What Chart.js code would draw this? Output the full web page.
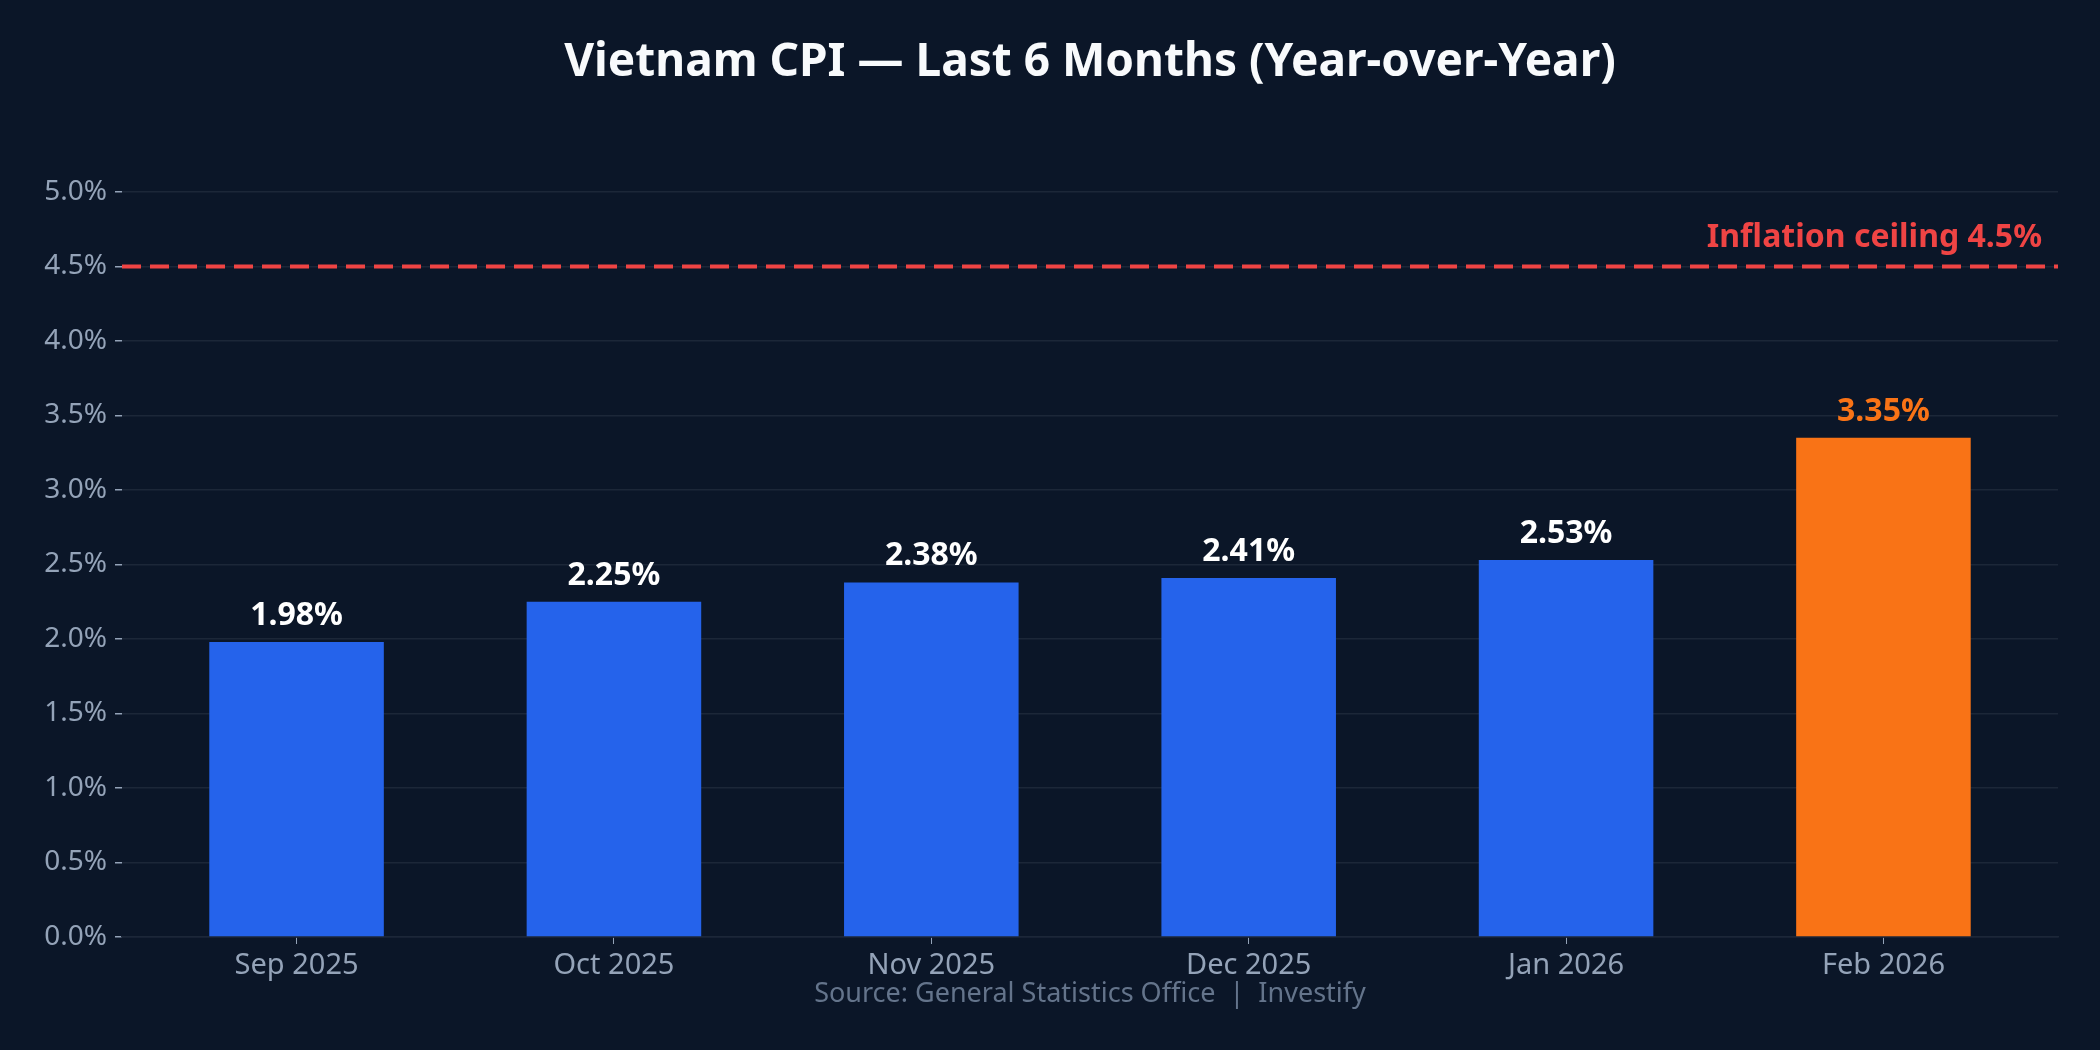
<!DOCTYPE html>
<html>
<head>
<meta charset="utf-8">
<title>Vietnam CPI — Last 6 Months</title>
<script src="https://cdn.jsdelivr.net/npm/chart.js@4.4.1/dist/chart.umd.min.js"></script>
<style>
  html, body { margin: 0; padding: 0; background: #0b1628; }
  #wrap { width: 2100px; height: 1050px; position: relative; }
</style>
</head>
<body>
<div id="wrap"><canvas id="cpiChart"></canvas></div>
<script>
// ── Data ────────────────────────────────────────────────────────────────
const MONTHS = ['Sep 2025', 'Oct 2025', 'Nov 2025', 'Dec 2025', 'Jan 2026', 'Feb 2026'];
const CPI_YOY = [1.98, 2.25, 2.38, 2.41, 2.53, 3.35];
const Y_TICKS = [0, 0.5, 1, 1.5, 2, 2.5, 3, 3.5, 4, 4.5, 5];
const CEILING = 4.5;

const TITLE = 'Vietnam CPI — Last 6 Months (Year-over-Year)';
const SOURCE = 'Source: General Statistics Office  |  Investify';
const CEILING_LABEL = 'Inflation ceiling 4.5%';

// ── Colours ─────────────────────────────────────────────────────────────
const BLUE = '#2563eb';
const ORANGE = '#f97316';
const RED = '#ef4444';
const GRID = '#1c2738';
const TICK_TEXT = '#94a3b8';
const FONT = "'Noto Sans', 'Open Sans', sans-serif";

const lastIdx = CPI_YOY.length - 1;
const barColors = CPI_YOY.map((_, i) => (i === lastIdx ? ORANGE : BLUE));

// Title, ceiling line, value labels and source line
const overlayPlugin = {
  id: 'overlay',
  beforeDatasetsDraw(chart) {
    const { ctx, chartArea, scales } = chart;
    const y = scales.y.getPixelForValue(CEILING);
    ctx.save();
    ctx.strokeStyle = RED;
    ctx.lineWidth = 4;
    ctx.setLineDash([19, 9]);
    ctx.beginPath();
    ctx.moveTo(chartArea.left, y);
    ctx.lineTo(chartArea.right, y);
    ctx.stroke();
    ctx.restore();
  },
  afterDatasetsDraw(chart) {
    const { ctx, chartArea, scales } = chart;
    const cx = (chartArea.left + chartArea.right) / 2;
    ctx.save();

    // title
    ctx.fillStyle = '#f8fafc';
    ctx.font = `bold 46px ${FONT}`;
    ctx.textAlign = 'center';
    ctx.textBaseline = 'alphabetic';
    ctx.fillText(TITLE, cx, 76);

    // ceiling label
    const yc = scales.y.getPixelForValue(CEILING);
    ctx.fillStyle = RED;
    ctx.font = `bold 32px ${FONT}`;
    ctx.textAlign = 'right';
    ctx.fillText(CEILING_LABEL, chartArea.right - 16, yc - 20);

    // value labels
    ctx.font = `bold 32px ${FONT}`;
    ctx.textAlign = 'center';
    chart.getDatasetMeta(0).data.forEach((bar, i) => {
      ctx.fillStyle = i === lastIdx ? ORANGE : '#ffffff';
      ctx.fillText(CPI_YOY[i].toFixed(2) + '%', bar.x, bar.y - 17);
    });

    // source
    ctx.fillStyle = '#64748b';
    ctx.font = `27px ${FONT}`;
    ctx.fillText(SOURCE, cx, 1002);
    ctx.restore();
  },
};

new Chart(document.getElementById('cpiChart'), {
  type: 'bar',
  data: {
    datasets: [{
      label: 'CPI YoY (%)',
      data: CPI_YOY.map((v, i) => ({ x: i, y: v })),
      backgroundColor: barColors,
      borderWidth: 0,
      barPercentage: 0.55,
      categoryPercentage: 1,
    }],
  },
  options: {
    responsive: true,
    maintainAspectRatio: false,
    animation: false,
    devicePixelRatio: 1,
    layout: { padding: { top: 192, right: 42, left: 0, bottom: 0 } },
    plugins: {
      legend: { display: false },
      tooltip: { enabled: false },
      title: { display: false },
    },
    scales: {
      x: {
        type: 'linear',
        min: -0.55,
        max: lastIdx + 0.55,
        offset: false,
        afterBuildTicks: scale => { scale.ticks = MONTHS.map((_, i) => ({ value: i })); },
        afterFit: scale => { scale.height = 113; },
        grid: {
          offset: false,
          drawOnChartArea: false,
          drawTicks: true,
          tickLength: 7,
          tickColor: TICK_TEXT,
        },
        border: { display: true, color: GRID, width: 1.5 },
        ticks: {
          color: TICK_TEXT,
          font: { family: FONT, size: 29 },
          padding: 4,
          maxRotation: 0,
          autoSkip: false,
          callback: v => MONTHS[v],
        },
      },
      y: {
        min: 0,
        max: 5,
        afterBuildTicks: scale => { scale.ticks = Y_TICKS.map(v => ({ value: v })); },
        afterFit: scale => { scale.width = 122; },
        grid: {
          color: GRID,
          lineWidth: 1.5,
          drawTicks: true,
          tickLength: 7,
          tickColor: TICK_TEXT,
        },
        border: { display: false },
        ticks: {
          color: TICK_TEXT,
          font: { family: FONT, size: 28 },
          padding: 8,
          callback: v => v.toFixed(1) + '%',
        },
      },
    },
  },
  plugins: [overlayPlugin],
});
</script>
</body>
</html>
